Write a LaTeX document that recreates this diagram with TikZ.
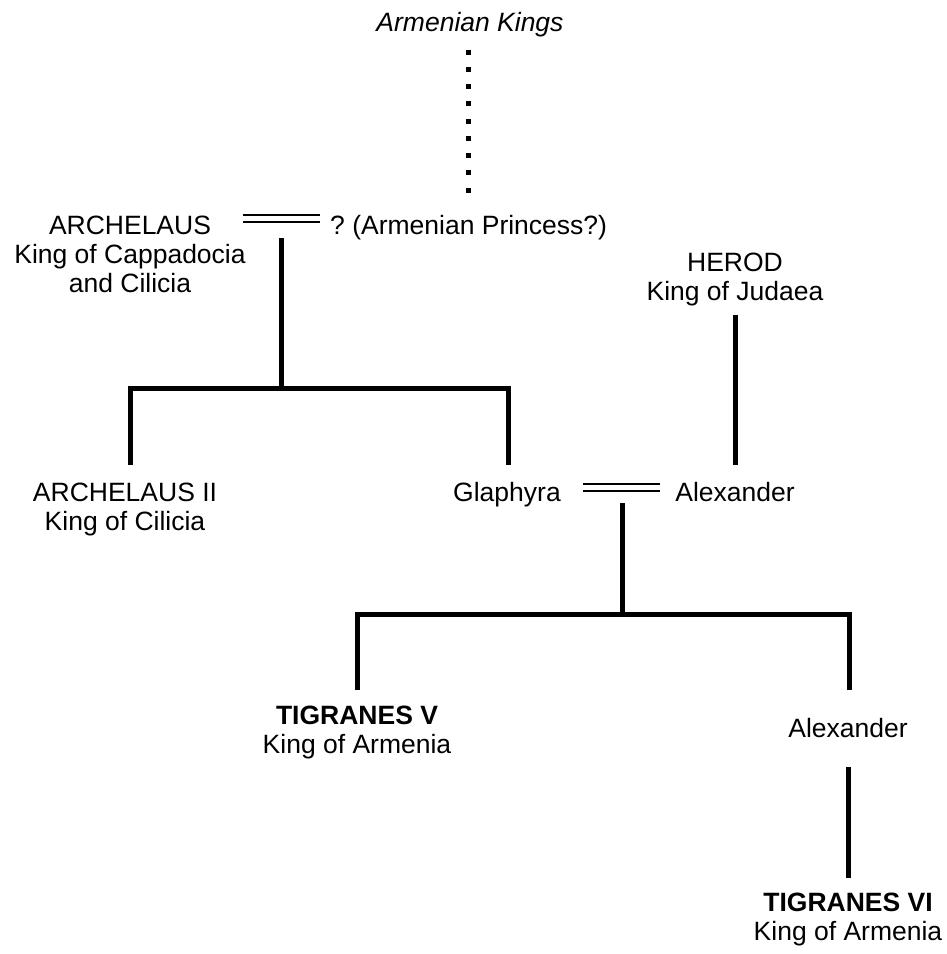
\documentclass[tikz,border=0pt]{standalone}
\usepackage{fontspec}
\setmainfont{Liberation Sans}
\frenchspacing
\begin{document}
\begin{tikzpicture}[x=1pt,y=-1pt,
  person/.style={inner sep=0pt, align=center, font=\fontsize{26.5}{29}\selectfont},
  descent/.style={line width=5pt, line join=miter},
  marriage/.style={double, line width=1.8pt, double distance=5.5pt},
  lineage/.style={line width=5pt, dash pattern=on 5pt off 12.25pt}]
\useasboundingbox (0,0) rectangle (946,954);

% people (anchored at the baseline of the last line)
\node[person, anchor=base, font=\fontsize{26.5}{29}\selectfont\itshape] (kings) at (470,31) {Armenian Kings};
\node[person, anchor=base] (arch) at (130,292.5) {ARCHELAUS\\King of Cappadocia\\and Cilicia};
\node[person, anchor=base west] (princess) at (330,234) {? (Armenian Princess?)};
\node[person, anchor=base] (herod) at (735,300) {HEROD\\King of Judaea};
\node[person, anchor=base] (arch2) at (125,530) {ARCHELAUS II\\King of Cilicia};
\node[person, anchor=base] (glaph) at (507,501) {Glaphyra};
\node[person, anchor=base] (alex) at (735,501) {Alexander};
\node[person, anchor=base] (tig5) at (357,753) {\textbf{TIGRANES V}\\King of Armenia};
\node[person, anchor=base] (alex2) at (848,737) {Alexander};
\node[person, anchor=base] (tig6) at (848,940) {\textbf{TIGRANES VI}\\King of Armenia};

% connector ends
\coordinate (lineTop) at (468,49.5);
\coordinate (lineEnd) at (468,193);
\coordinate (m1l) at (243,218.5);
\coordinate (m1r) at (320,218.5);
\coordinate (m1) at (281,238);
\coordinate (j1) at (281,388);
\coordinate (c1) at (130,465);
\coordinate (c2) at (508,465);
\coordinate (m2l) at (583,487.5);
\coordinate (m2r) at (660,487.5);
\coordinate (m2) at (622,503);
\coordinate (j2) at (622,614);
\coordinate (c3) at (357,690);
\coordinate (c4) at (849,690);
\coordinate (hTop) at (735,315);
\coordinate (hBot) at (735,465);
\coordinate (aTop) at (848,767);
\coordinate (aBot) at (848,878);

% descent from the Armenian kings
\draw[lineage] (lineTop) -- (lineEnd);

% marriages
\draw[marriage] (m1l) -- (m1r);
\draw[marriage] (m2l) -- (m2r);

% children of Archelaus
\draw[descent] (m1) -- (j1);
\draw[descent] (c1) |- (j1) -| (c2);

% Herod to Alexander
\draw[descent] (hTop) -- (hBot);

% children of Glaphyra and Alexander
\draw[descent] (m2) -- (j2);
\draw[descent] (c3) |- (j2) -| (c4);

% Alexander to Tigranes VI
\draw[descent] (aTop) -- (aBot);
\end{tikzpicture}
\end{document}
